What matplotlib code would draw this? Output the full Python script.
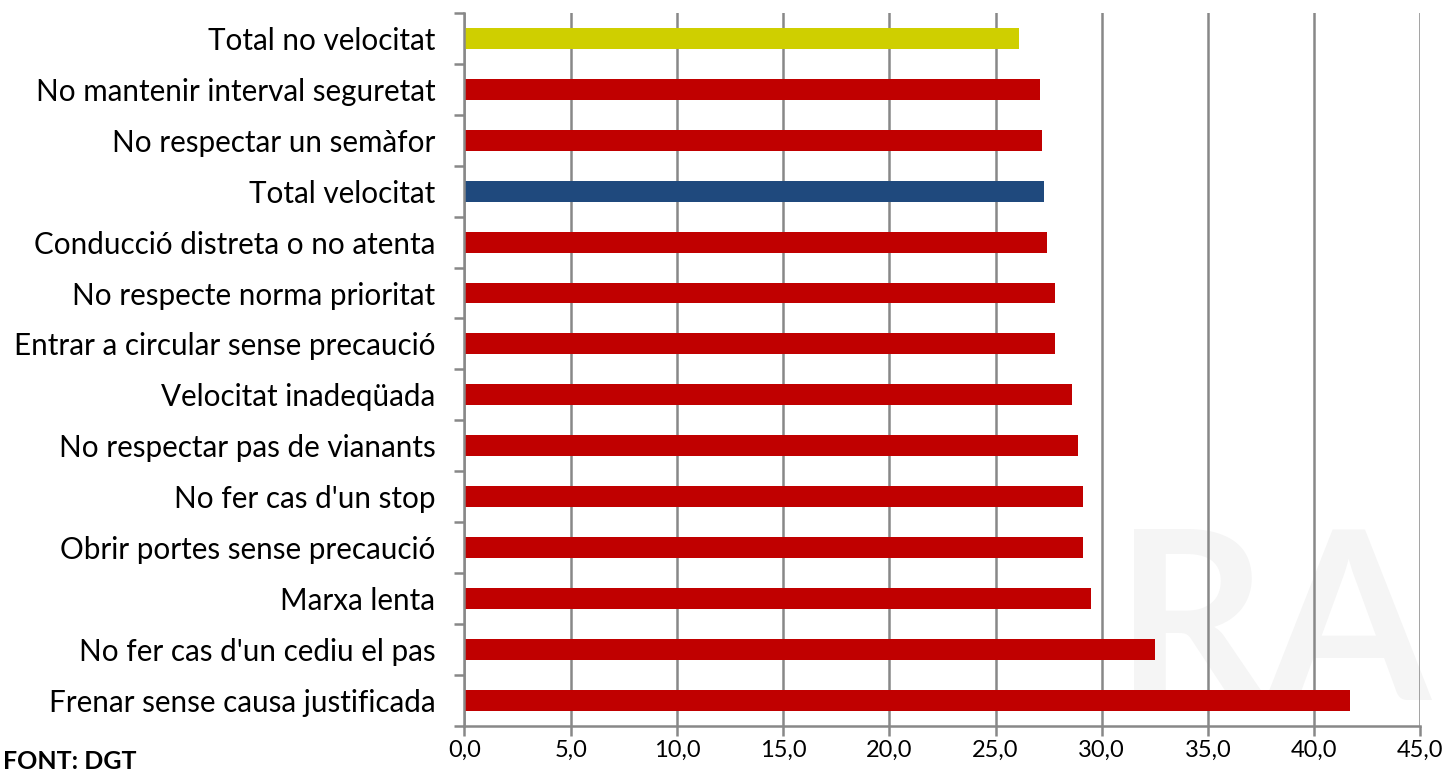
import matplotlib
matplotlib.use("Agg")
import matplotlib.pyplot as plt
from matplotlib.ticker import FixedLocator, FuncFormatter

categories = [
    "Total no velocitat",
    "No mantenir interval seguretat",
    "No respectar un semàfor",
    "Total velocitat",
    "Conducció distreta o no atenta",
    "No respecte norma prioritat",
    "Entrar a circular sense precaució",
    "Velocitat inadeqüada",
    "No respectar pas de vianants",
    "No fer cas d'un stop",
    "Obrir portes sense precaució",
    "Marxa lenta",
    "No fer cas d'un cediu el pas",
    "Frenar sense causa justificada",
]
values = [26.1, 27.1, 27.2, 27.3, 27.4, 27.8, 27.8, 28.6, 28.9, 29.1, 29.1, 29.5, 32.5, 41.7]
bar_colors = ["#CFCF00", "#C00000", "#C00000", "#1F497D"] + ["#C00000"] * 10
x_ticks = [0, 5, 10, 15, 20, 25, 30, 35, 40, 45]

plt.rcParams['font.family'] = ['Lato', 'DejaVu Sans']

fig = plt.figure(figsize=(14.5, 7.75), dpi=100)
ax = fig.add_axes([0.3203, 0.0636, 0.6593, 0.9196])

pos = list(range(len(categories)))
ax.barh(pos, values, height=0.41, color=bar_colors, zorder=2)

ax.set_ylim(len(categories) - 0.5, -0.5)
ax.set_xlim(0, 45)

grid_col = "#888888"
ax.xaxis.set_major_locator(FixedLocator(x_ticks))
ax.xaxis.set_major_formatter(FuncFormatter(lambda v, p: f"{v:.1f}".replace(".", ",")))
ax.grid(axis="x", color=grid_col, linewidth=1.8, zorder=1)
ax.set_axisbelow(True)

ax.set_yticks(pos)
ax.set_yticklabels(categories, fontsize=21.3)
ax.yaxis.set_minor_locator(FixedLocator([i - 0.5 for i in range(len(categories) + 1)]))
ax.tick_params(axis="y", which="major", length=0, pad=21)
ax.tick_params(axis="y", which="minor", length=7, width=1.8, color=grid_col, direction="out")
ax.tick_params(axis="x", length=7, width=1.8, color=grid_col, labelsize=17, pad=3)

for s in ["top", "right"]:
    ax.spines[s].set_visible(False)
for s in ["left", "bottom"]:
    ax.spines[s].set_color(grid_col)
    ax.spines[s].set_linewidth(1.8)

# faint watermark
ax.text(0.68, -0.02, "RA", transform=ax.transAxes, fontsize=170, fontweight="bold",
        color="#f5f5f5", ha="left", va="bottom", zorder=0, clip_on=False)

fig.text(0.002, 0.003, "FONT: DGT", fontsize=18, fontweight="bold", ha="left", va="bottom")

fig.savefig("out.png", dpi=100)
